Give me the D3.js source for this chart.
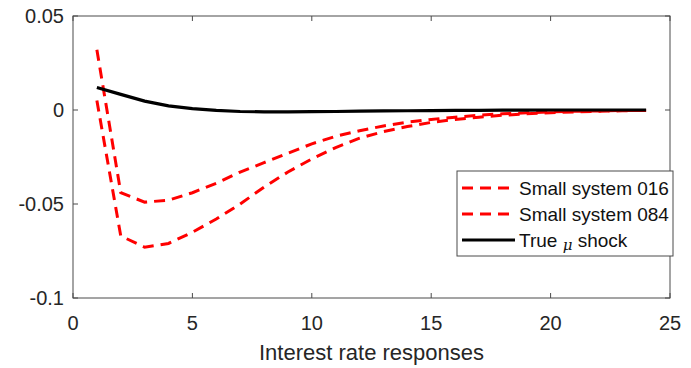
<!DOCTYPE html>
<html>
<head>
<meta charset="utf-8">
<script src="https://cdn.jsdelivr.net/npm/d3@7"></script>
<style>
  body { margin: 0; background: #fff; }
  text { font-family: "Liberation Sans", Arial, sans-serif; }
</style>
</head>
<body>
<div id="chart"></div>
<script>

// horizons 1..24
var horizons = d3.range(1, 25);
var small016 = [0.032, -0.044, -0.049, -0.048, -0.044, -0.039, -0.033, -0.028, -0.023, -0.018,
  -0.014, -0.011, -0.0085, -0.0065, -0.005, -0.0038, -0.0028, -0.002, -0.0015, -0.001,
  -0.0007, -0.0005, -0.0003, -0.0002];
var small084 = [0.005, -0.067, -0.073, -0.071, -0.065, -0.058, -0.050, -0.041, -0.033, -0.026,
  -0.020, -0.015, -0.0115, -0.0088, -0.0066, -0.005, -0.0038, -0.0028, -0.002, -0.0015,
  -0.001, -0.0007, -0.0004, -0.0002];
var trueShock = [0.012, 0.0083, 0.0047, 0.0022, 0.0007, -0.0002, -0.0008, -0.001, -0.001, -0.0009,
  -0.0008, -0.0006, -0.0005, -0.0004, -0.0003, -0.0002, -0.0002, -0.0001, -0.0001, 0,
  0, 0, 0, 0];
var xTicks = [0, 5, 10, 15, 20, 25];
var yTicks = [0.05, 0, -0.05, -0.1];
var yTickLabels = ["0.05", "0", "-0.05", "-0.1"];

var W = 691, H = 368;
var m = { left: 73, right: 670, top: 16, bottom: 298 };

var svg = d3.select("#chart").append("svg")
  .attr("width", W)
  .attr("height", H);

var x = d3.scaleLinear().domain([0, 25]).range([m.left, m.right]);
var y = d3.scaleLinear().domain([-0.1, 0.05]).range([m.bottom, m.top]);

var axisColor = "#4a4a4a";
var textColor = "#262626";
var tickLen = 5;

// box
svg.append("rect")
  .attr("x", m.left).attr("y", m.top)
  .attr("width", m.right - m.left).attr("height", m.bottom - m.top)
  .attr("fill", "none")
  .attr("stroke", axisColor)
  .attr("stroke-width", 1);

// ticks, all pointing inward
xTicks.forEach(function (t) {
  svg.append("line")
    .attr("x1", x(t)).attr("x2", x(t))
    .attr("y1", m.bottom).attr("y2", m.bottom - tickLen)
    .attr("stroke", axisColor);
  svg.append("line")
    .attr("x1", x(t)).attr("x2", x(t))
    .attr("y1", m.top).attr("y2", m.top + tickLen)
    .attr("stroke", axisColor);
  svg.append("text")
    .attr("x", x(t))
    .attr("y", 330)
    .attr("text-anchor", "middle")
    .style("font-size", "20px")
    .style("fill", textColor)
    .text(t);
});

yTicks.forEach(function (t, i) {
  svg.append("line")
    .attr("x1", m.left).attr("x2", m.left + tickLen)
    .attr("y1", y(t)).attr("y2", y(t))
    .attr("stroke", axisColor);
  svg.append("line")
    .attr("x1", m.right).attr("x2", m.right - tickLen)
    .attr("y1", y(t)).attr("y2", y(t))
    .attr("stroke", axisColor);
  svg.append("text")
    .attr("x", m.left - 9)
    .attr("y", y(t) + 7)
    .attr("text-anchor", "end")
    .style("font-size", "20px")
    .style("fill", textColor)
    .text(yTickLabels[i]);
});

svg.append("text")
  .attr("x", (m.left + m.right) / 2)
  .attr("y", 360)
  .attr("text-anchor", "middle")
  .style("font-size", "22px")
  .style("fill", textColor)
  .text("Interest rate responses");

var line = d3.line()
  .x(function (d) { return x(d[0]); })
  .y(function (d) { return y(d[1]); });

function series(vals) {
  return horizons.map(function (h, i) { return [h, vals[i]]; });
}

var dash = "11,7";

svg.append("path")
  .datum(series(small016))
  .attr("d", line)
  .attr("fill", "none")
  .attr("stroke", "#ff0000")
  .attr("stroke-width", 3)
  .attr("stroke-dasharray", dash);

svg.append("path")
  .datum(series(small084))
  .attr("d", line)
  .attr("fill", "none")
  .attr("stroke", "#ff0000")
  .attr("stroke-width", 3)
  .attr("stroke-dasharray", dash);

svg.append("path")
  .datum(series(trueShock))
  .attr("d", line)
  .attr("fill", "none")
  .attr("stroke", "#000")
  .attr("stroke-width", 3.2);

// legend
var lg = svg.append("g");
lg.append("rect")
  .attr("x", 457).attr("y", 171)
  .attr("width", 216).attr("height", 85)
  .attr("fill", "#fff")
  .attr("stroke", axisColor)
  .attr("stroke-width", 1);

var items = [
  { label: "Small system 016", color: "#ff0000", dash: dash, cy: 188 },
  { label: "Small system 084", color: "#ff0000", dash: dash, cy: 214 },
  { label: "True", color: "#000", dash: null, cy: 240 }
];

items.forEach(function (it) {
  lg.append("line")
    .attr("x1", 462).attr("x2", 515)
    .attr("y1", it.cy).attr("y2", it.cy)
    .attr("stroke", it.color)
    .attr("stroke-width", 3)
    .attr("stroke-dasharray", it.dash);
  var t = lg.append("text")
    .attr("x", 519)
    .attr("y", it.cy + 7)
    .style("font-size", "19px")
    .style("fill", "#111");
  if (it.label === "True") {
    t.append("tspan").text("True ");
    t.append("tspan")
      .attr("dy", 3)
      .style("font-style", "italic")
      .style("font-family", "'DejaVu Serif', serif")
      .style("font-size", "15px")
      .text("\u03bc");
    t.append("tspan").attr("dy", -3).text(" shock");
  } else {
    t.text(it.label);
  }
});

</script>
</body>
</html>
